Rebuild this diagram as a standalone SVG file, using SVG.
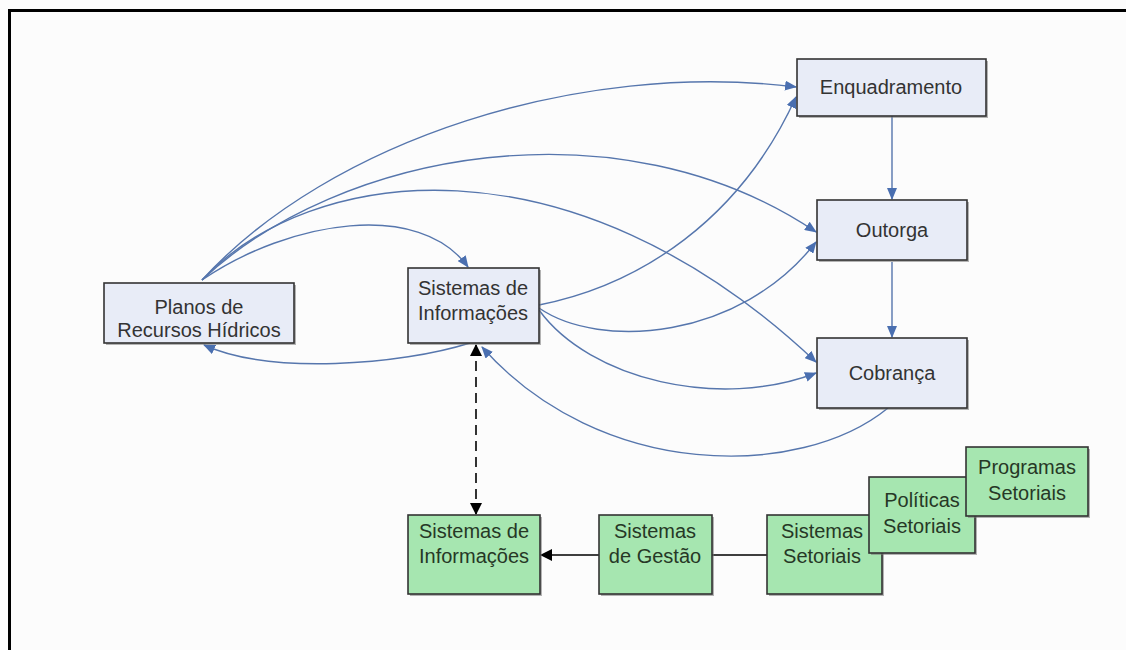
<svg xmlns="http://www.w3.org/2000/svg" width="1126" height="650" viewBox="0 0 1126 650">
<style>
.bg{fill:#fcfcfc}
.frame{fill:none;stroke:#000;stroke-width:3}
.shadow{fill:#777;opacity:0.55}
.blue{fill:#e8ecf7;stroke:#333;stroke-width:1.6}
.green{fill:#a6e6b0;stroke:#333;stroke-width:1.6}
.t{font-family:"Liberation Sans",Arial,sans-serif;font-size:20px;fill:#333;text-anchor:middle}
.g{fill:#263826}
.c{fill:none;stroke:#5676ad;stroke-width:1.4}
.k{fill:none;stroke:#000;stroke-width:1.6}
</style>
<defs>
<marker id="ab" markerWidth="12" markerHeight="10" refX="11" refY="5" orient="auto" markerUnits="userSpaceOnUse">
<path d="M0,0 L12,5 L0,10 Z" fill="#4a6fb0"/>
</marker>
<marker id="ak" markerWidth="12" markerHeight="12" refX="11" refY="6" orient="auto" markerUnits="userSpaceOnUse">
<path d="M0,0 L12,6 L0,12 Z" fill="#000"/>
</marker>
<marker id="aks" markerWidth="12" markerHeight="12" refX="1" refY="6" orient="auto" markerUnits="userSpaceOnUse">
<path d="M12,0 L0,6 L12,12 Z" fill="#000"/>
</marker>
</defs>
<rect class="bg" x="0" y="0" width="1126" height="650"/>
<path class="frame" d="M9.5,650 V10.5 H1126"/>

<g id="connectors">
<path class="c" d="M202,280 C330,140 580,60 796,87" marker-end="url(#ab)"/>
<path class="c" d="M202,280 C340,150 620,100 816,232" marker-end="url(#ab)"/>
<path class="c" d="M202,280 C310,165 570,130 816,362" marker-end="url(#ab)"/>
<path class="c" d="M202,280 C290,220 420,200 468,267" marker-end="url(#ab)"/>
<path class="c" d="M470,343 C400,365 270,375 204,345" marker-end="url(#ab)"/>
<path class="c" d="M539,305 C640,285 740,220 796,97" marker-end="url(#ab)"/>
<path class="c" d="M539,308 C600,350 740,340 816,242" marker-end="url(#ab)"/>
<path class="c" d="M539,310 C590,380 720,410 816,373" marker-end="url(#ab)"/>
<path class="c" d="M888,408 C800,480 600,480 482,347" marker-end="url(#ab)"/>
<path class="c" d="M892,116 V199" marker-end="url(#ab)"/>
<path class="c" d="M892,262 V337" marker-end="url(#ab)"/>
<path class="k" d="M476,345 V514" stroke-dasharray="10,6" marker-start="url(#aks)" marker-end="url(#ak)"/>
<path class="k" d="M599,555 H541" marker-end="url(#ak)"/>
<path class="k" d="M767,555 H712"/>
</g>

<g id="planos">
<rect class="shadow" x="106" y="285" width="190" height="60"/>
<rect class="blue" x="104" y="283" width="190" height="60"/>
<text class="t" x="199" y="314">Planos de</text>
<text class="t" x="199" y="337">Recursos Hídricos</text>
</g>
<g id="sistemas-info">
<rect class="shadow" x="410" y="270" width="131" height="75"/>
<rect class="blue" x="408" y="268" width="131" height="75"/>
<text class="t" x="473" y="295">Sistemas de</text>
<text class="t" x="473" y="320">Informações</text>
</g>
<g id="enquadramento">
<rect class="shadow" x="799" y="61" width="189" height="57"/>
<rect class="blue" x="797" y="59" width="189" height="57"/>
<text class="t" x="891" y="94">Enquadramento</text>
</g>
<g id="outorga">
<rect class="shadow" x="819" y="202" width="150" height="60"/>
<rect class="blue" x="817" y="200" width="150" height="60"/>
<text class="t" x="892" y="237">Outorga</text>
</g>
<g id="cobranca">
<rect class="shadow" x="819" y="340" width="150" height="70"/>
<rect class="blue" x="817" y="338" width="150" height="70"/>
<text class="t" x="892" y="380">Cobrança</text>
</g>

<g id="green-info">
<rect class="shadow" x="410" y="517" width="132" height="79"/>
<rect class="green" x="408" y="515" width="132" height="79"/>
<text class="t g" x="474" y="538">Sistemas de</text>
<text class="t g" x="474" y="563">Informações</text>
</g>
<g id="gestao">
<rect class="shadow" x="601" y="517" width="113" height="79"/>
<rect class="green" x="599" y="515" width="113" height="79"/>
<text class="t g" x="655" y="538">Sistemas</text>
<text class="t g" x="655" y="563">de Gestão</text>
</g>
<g id="setoriais">
<rect class="shadow" x="769" y="517" width="115" height="79"/>
<rect class="green" x="767" y="515" width="115" height="79"/>
<text class="t g" x="822" y="538">Sistemas</text>
<text class="t g" x="822" y="563">Setoriais</text>
</g>
<g id="politicas">
<rect class="shadow" x="871" y="479" width="106" height="76"/>
<rect class="green" x="869" y="477" width="106" height="76"/>
<text class="t g" x="922" y="507">Políticas</text>
<text class="t g" x="922" y="533">Setoriais</text>
</g>
<g id="programas">
<rect class="shadow" x="968" y="449" width="122" height="69"/>
<rect class="green" x="966" y="447" width="122" height="69"/>
<text class="t g" x="1027" y="474">Programas</text>
<text class="t g" x="1027" y="500">Setoriais</text>
</g>
</svg>
